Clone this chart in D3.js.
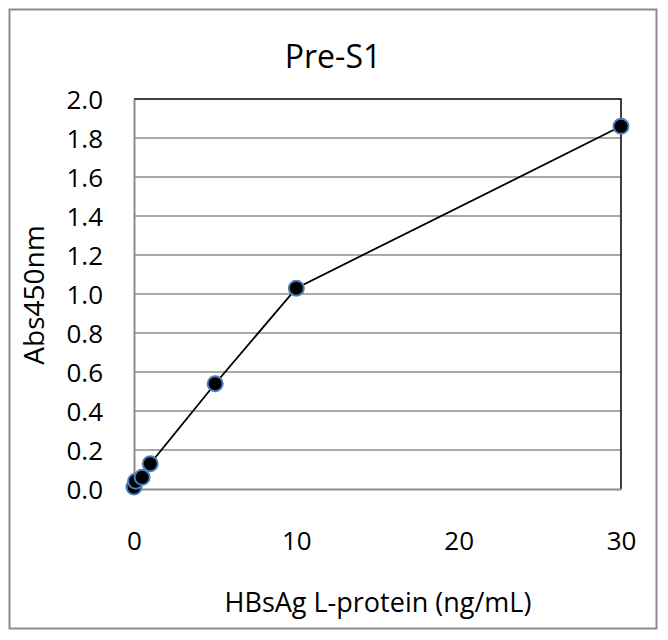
<!DOCTYPE html>
<html><head><meta charset="utf-8">
<script src="https://cdn.jsdelivr.net/npm/d3@7"></script>
<style>body{margin:0;background:#fff}svg{display:block}text{font-family:"Open Sans",sans-serif;fill:#000}</style>
</head><body>
<script>
const title = "Pre-S1";
const xLabel = "HBsAg L-protein (ng/mL)";
const yLabel = "Abs450nm";
const concentrations = [0, 0.1, 0.5, 1, 5, 10, 30];
const absorbance = [0.01, 0.04, 0.06, 0.13, 0.54, 1.03, 1.86];
const xTicks = [0, 10, 20, 30];
const yTicks = [0, 0.2, 0.4, 0.6, 0.8, 1.0, 1.2, 1.4, 1.6, 1.8, 2.0];

const W = 668, H = 640;
const svg = d3.select("body").append("svg").attr("width", W).attr("height", H);
const L = 134, R = 621, T = 99, B = 489;
const x = d3.scaleLinear().domain([0, 30]).range([L, R]);
const y = d3.scaleLinear().domain([0, 2]).range([B, T]);

svg.append("rect").attr("x", 9.5).attr("y", 9.5).attr("width", 647).attr("height", 619)
  .attr("fill", "#fff").attr("stroke", "#8c8c8c").attr("stroke-width", 2);

// gridlines
svg.append("g").selectAll("line").data(yTicks.slice(1, -1)).join("line")
  .attr("x1", L).attr("x2", R).attr("y1", d => y(d)).attr("y2", d => y(d))
  .attr("stroke", "#8c8c8c").attr("stroke-width", 1.5);

// plot border top/right black
svg.append("path").attr("d", `M${L},${T}H${R}V${B}`).attr("fill", "none")
  .attr("stroke", "#000").attr("stroke-width", 1.5);

// axes
const yAxis = d3.axisLeft(y).tickValues(yTicks).tickFormat(d3.format(".1f")).tickSize(0).tickPadding(31);
const gy = svg.append("g").attr("transform", `translate(${L},0)`).call(yAxis);
gy.select(".domain").attr("stroke", "#8c8c8c").attr("stroke-width", 2);
gy.selectAll("text").style("font-size", "26px").attr("dy", "0.36em");

const xAxis = d3.axisBottom(x).tickValues(xTicks).tickFormat(d3.format("d")).tickSize(0).tickPadding(61);
const gx = svg.append("g").attr("transform", `translate(0,${B})`).call(xAxis);
gx.select(".domain").attr("stroke", "#8c8c8c").attr("stroke-width", 2);
gx.selectAll("text").style("font-size", "26px").attr("dy", "0");

// line
svg.append("path")
  .datum(concentrations.map((c, i) => [c, absorbance[i]]))
  .attr("d", d3.line().x(d => x(d[0])).y(d => y(d[1])))
  .attr("fill", "none").attr("stroke", "#000").attr("stroke-width", 1.8);

svg.append("g").selectAll("circle").data(concentrations.map((c, i) => [c, absorbance[i]])).join("circle")
  .attr("cx", d => x(d[0])).attr("cy", d => y(d[1])).attr("r", 7.5)
  .attr("fill", "#000").attr("stroke", "#4a7ebb").attr("stroke-width", 2);

svg.append("text").attr("x", 333).attr("y", 68).attr("text-anchor", "middle")
  .style("font-size", "32px").text(title);
svg.append("text").attr("x", 378).attr("y", 612).attr("text-anchor", "middle")
  .style("font-size", "27px").text(xLabel);
svg.append("text").attr("transform", "translate(44,295) rotate(-90)").attr("text-anchor", "middle")
  .style("font-size", "28px").text(yLabel);
</script>
</body></html>
